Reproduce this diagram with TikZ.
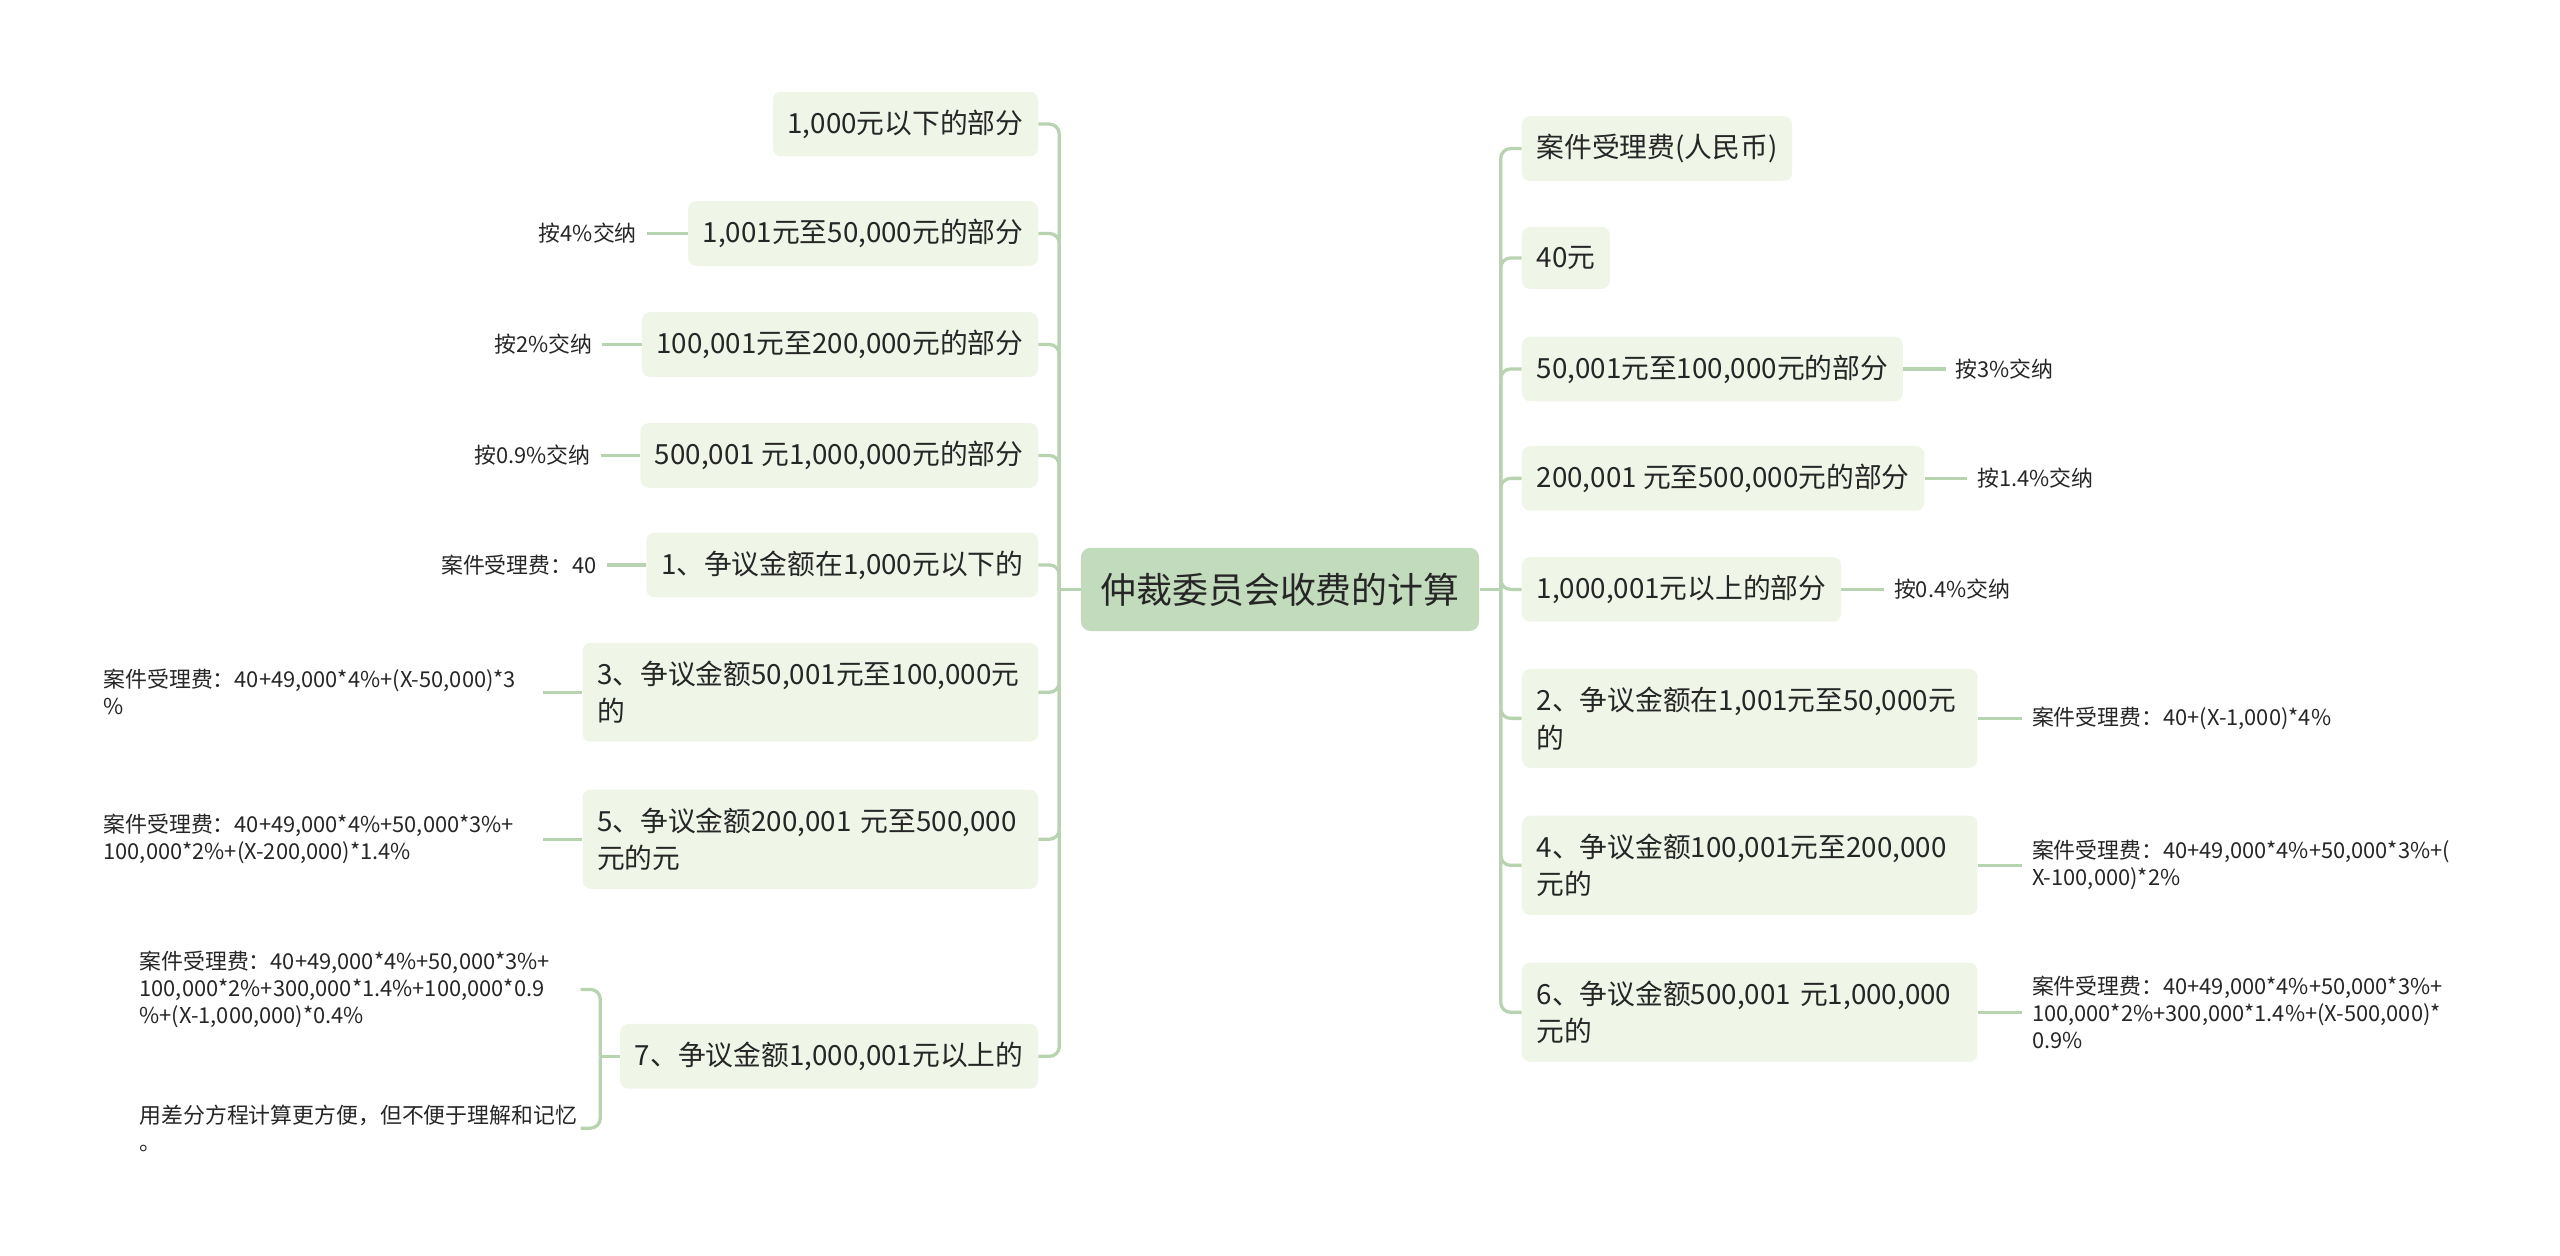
\documentclass[tikz,border=0pt]{standalone}
\usepackage{fontspec}
\setmainfont{Noto Sans CJK SC}
\usetikzlibrary{positioning}
\definecolor{rootgreen}{HTML}{C3DBBD}
\definecolor{topicgreen}{HTML}{EFF6E8}
\definecolor{linkgreen}{HTML}{B8D3B0}
\definecolor{inkgray}{HTML}{262626}
\tikzset{
  rootbox/.style={fill=rootgreen,rounded corners=6pt,inner xsep=12pt,minimum height=51pt,font=\fontsize{22}{26}\selectfont},
  topic/.style={fill=topicgreen,rounded corners=5pt,inner xsep=9pt,inner ysep=11pt,minimum height=38pt,font=\fontsize{17}{23}\selectfont,align=left},
  wide/.style={text width=261pt},
  leaf/.style={inner xsep=6pt,inner ysep=2pt,font=\fontsize{13.4}{16.5}\selectfont,align=left},
  link/.style={draw=linkgreen,line width=2pt,rounded corners=6pt},
}

\begin{document}
\begin{tikzpicture}[x=1pt,y=-1pt,text=inkgray]
\useasboundingbox (0,0) rectangle (1568,769);
\node[rootbox] (root) at (784,361) {仲裁委员会收费的计算};
% right side
\node[topic,anchor=west] (r1) at (932,91) {案件受理费(人民币)};
\node[topic,anchor=west] (r2) at (932,158) {40元};
\node[topic,anchor=west] (r3) at (932,226) {50,001元至100,000元的部分};
\node[topic,anchor=west] (r4) at (932,293) {200,001 元至500,000元的部分};
\node[topic,anchor=west] (r5) at (932,361) {1,000,001元以上的部分};
\node[topic,wide,anchor=west] (r6) at (932,440) {2、争议金额在1,001元至50,000元\\的};
\node[topic,wide,anchor=west] (r7) at (932,530) {4、争议金额100,001元至200,000\\元的};
\node[topic,wide,anchor=west] (r8) at (932,620) {6、争议金额500,001 元1,000,000\\元的};
\node[leaf,right=26pt of r3] (r3a) {按3\%交纳};
\node[leaf,right=26pt of r4] (r4a) {按1.4\%交纳};
\node[leaf,right=26pt of r5] (r5a) {按0.4\%交纳};
\node[leaf,right=27pt of r6] (r6a) {案件受理费：40+(X-1,000)*4\%};
\node[leaf,right=27pt of r7] (r7a) {案件受理费：40+49,000*4\%+50,000*3\%+(\\X-100,000)*2\%};
\node[leaf,right=27pt of r8] (r8a) {案件受理费：40+49,000*4\%+50,000*3\%+\\100,000*2\%+300,000*1.4\%+(X-500,000)*\\0.9\%};
% left side
\node[topic,anchor=east] (l1) at (636,76) {1,000元以下的部分};
\node[topic,anchor=east] (l2) at (636,143) {1,001元至50,000元的部分};
\node[topic,anchor=east] (l3) at (636,211) {100,001元至200,000元的部分};
\node[topic,anchor=east] (l4) at (636,279) {500,001 元1,000,000元的部分};
\node[topic,anchor=east] (l5) at (636,346) {1、争议金额在1,000元以下的};
\node[topic,wide,anchor=east] (l6) at (636,424) {3、争议金额50,001元至100,000元\\的};
\node[topic,wide,anchor=east] (l7) at (636,514) {5、争议金额200,001 元至500,000\\元的元};
\node[topic,anchor=east] (l8) at (636,647) {7、争议金额1,000,001元以上的};
\node[leaf,left=25pt of l2] (l2a) {按4\%交纳};
\node[leaf,left=24pt of l3] (l3a) {按2\%交纳};
\node[leaf,left=24pt of l4] (l4a) {按0.9\%交纳};
\node[leaf,left=24pt of l5] (l5a) {案件受理费：40};
\node[leaf,text width=263pt,left=24pt of l6] (l6a) {案件受理费：40+49,000*4\%+(X-50,000)*3\\\%};
\node[leaf,text width=263pt,left=24pt of l7] (l7a) {案件受理费：40+49,000*4\%+50,000*3\%+\\100,000*2\%+(X-200,000)*1.4\%};
\node[leaf,text width=264pt,anchor=east] (l8a) at ([shift={(-24,-41)}]l8.west) {案件受理费：40+49,000*4\%+50,000*3\%+\\100,000*2\%+300,000*1.4\%+100,000*0.9\\\%+(X-1,000,000)*0.4\%};
\node[leaf,text width=264pt,anchor=east] (l8b) at ([shift={(-24,44)}]l8.west) {用差分方程计算更方便，但不便于理解和记忆\\。};
% connectors
\coordinate (rj) at ([xshift=13pt]root.east);
\coordinate (lj) at ([xshift=-13pt]root.west);
\draw[link] (root.east) -- (rj);
\draw[link] (root.west) -- (lj);
\foreach \c in {r1,r2,r3,r4,r5,r6,r7,r8}
  \draw[link] (rj) |- (\c.west);
\foreach \c in {l1,l2,l3,l4,l5,l6,l7,l8}
  \draw[link] (lj) |- (\c.east);
\foreach \c in {r3,r4,r5,r6,r7,r8}
  \draw[link] (\c.east) -- (\c a.west);
\foreach \c in {l2,l3,l4,l5,l6,l7}
  \draw[link] (\c.west) -- (\c a.east);
\coordinate (l8j) at ([xshift=-12pt]l8.west);
\draw[link] (l8.west) -- (l8j);
\draw[link] (l8j) |- (l8a.east);
\draw[link] (l8j) |- (l8b.east);
\end{tikzpicture}
\end{document}
